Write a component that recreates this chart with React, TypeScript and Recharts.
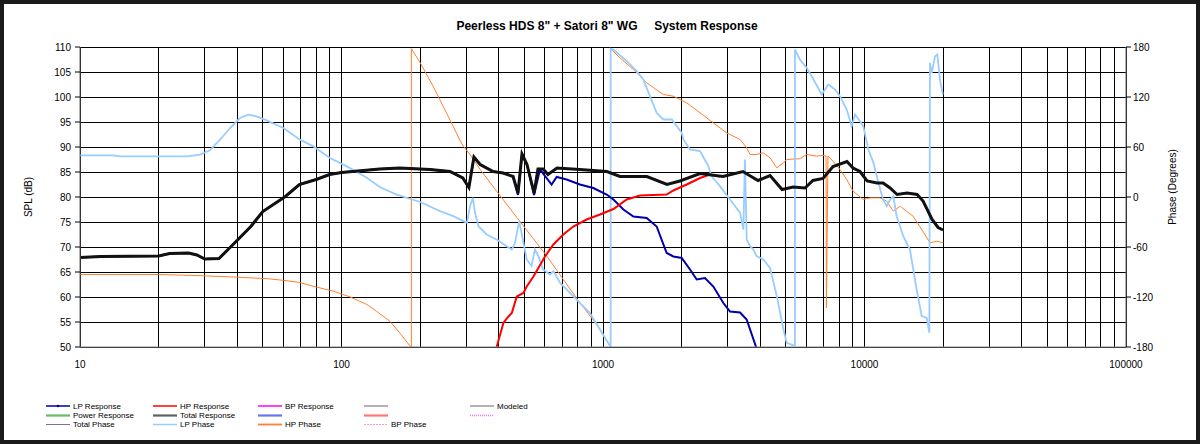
import React from 'react';
import { ComposedChart, Line, XAxis, YAxis, CartesianGrid, Label } from 'recharts';

// [frequency Hz, value]
const totalResponse: [number, number][] = [
  [10, 67.9], [12, 68.1], [20, 68.2], [22, 68.7], [26, 68.8], [28, 68.4], [30, 67.6], [34, 67.7],
  [39, 70.8], [45, 74.1], [50, 77.1], [61, 80.1], [69, 82.5], [80, 83.5], [90, 84.5], [100, 84.9],
  [140, 85.6], [167, 85.8], [218, 85.5], [260, 85.1], [291, 83.8], [307, 81.9], [321, 88.0],
  [339, 86.5], [380, 85.1], [415, 84.8], [453, 84.1], [473, 80.8], [490, 88.6], [512, 86.5],
  [545, 80.8], [564, 85.6], [590, 85.6], [616, 84.5], [667, 85.8], [816, 85.5], [1035, 85.1],
  [1161, 84.1], [1472, 84.1], [1757, 82.5], [1968, 83.2], [2350, 84.7], [2876, 84.1], [3428, 85.1],
  [3915, 83.3], [4353, 84.3], [4840, 81.5], [5330, 82.0], [5920, 81.8], [6350, 83.3], [6940, 83.7],
  [7580, 86.1], [8570, 87.1], [9040, 85.8], [9610, 85.1], [10230, 83.2], [11170, 82.8], [11780, 82.8],
  [12530, 81.8], [13320, 80.5], [14550, 80.8], [15890, 80.5], [16750, 79.2], [18130, 75.5],
  [19120, 73.9], [19970, 73.4],
];

const lpResponse: [number, number][] = [
  [10, 67.9], [12, 68.1], [20, 68.2], [22, 68.7], [26, 68.8], [28, 68.4], [30, 67.6], [34, 67.7],
  [39, 70.8], [45, 74.1], [50, 77.1], [61, 80.1], [69, 82.5], [80, 83.5], [90, 84.5], [100, 84.9],
  [140, 85.6], [167, 85.8], [218, 85.5], [260, 85.1], [291, 83.8], [307, 81.9], [321, 88.0],
  [339, 86.5], [380, 85.1], [415, 84.8], [453, 84.1], [473, 80.4], [490, 88.6], [512, 86.5],
  [545, 80.4], [574, 85.5], [636, 82.5], [665, 84.0], [726, 83.5], [816, 82.5], [918, 81.8],
  [1033, 80.5], [1096, 79.5], [1197, 77.5], [1307, 76.1], [1469, 75.8], [1604, 74.1], [1752, 68.8],
  [1858, 68.1], [2000, 67.8], [2152, 65.5], [2282, 63.5], [2454, 63.8], [2642, 62.1], [2886, 58.8],
  [3060, 57.1], [3343, 56.9], [3543, 55.5], [3850, 50],
];

const hpResponse: [number, number][] = [
  [392, 50], [416, 54.8], [435, 56.1], [448, 56.8], [468, 60.1], [496, 60.8], [511, 62.1],
  [542, 64.1], [600, 68.1], [646, 70.5], [705, 72.5], [770, 74.1], [866, 75.5], [974, 76.5],
  [1096, 77.6], [1232, 79.5], [1385, 80.3], [1752, 80.5], [1858, 81.3], [2089, 82.5], [2350, 83.8],
  [2566, 84.5], [2800, 84.1],
];

const hpPhase: [number, number][] = [
  [10, -93], [20, -93], [29, -94.4], [38.5, -96], [52, -98], [60, -100], [69, -102.5], [80, -108],
  [93, -113], [108, -120], [125, -129], [136, -137], [153, -149], [167, -163], [183, -179],
  [185, -180], [185, 178], [200, 161], [224, 133], [252, 101], [284, 68], [292, 61], [310, 51],
  [339, 33], [392, 7], [454, -19], [526, -45], [610, -71], [705, -99], [816, -127], [946, -153],
  [1065, -179], [1068, -180], [1068, 178], [1161, 167], [1307, 153], [1469, 137], [1701, 123],
  [1858, 121], [2089, 113], [2350, 101], [2642, 89], [2970, 77], [3343, 69], [3543, 59], [3650, 51],
  [3870, 51], [4100, 53], [4353, 47], [4620, 35], [4900, 41], [5040, 45], [5660, 46], [6010, 51],
  [6560, 49], [6940, 50], [7130, 49], [7150, -133], [7250, 49], [7580, 43], [8060, 33], [8550, 21],
  [9040, 7], [9890, -3], [10500, -1], [11470, -1], [12160, -5], [12890, -17], [13710, -11],
  [14450, -17], [15330, -23], [16250, -35], [17800, -55], [18900, -53], [20000, -55],
];

const lpPhase: [number, number][] = [
  [10, 50], [13.4, 50], [14.2, 48.7], [25.6, 48.7], [28.8, 50.8], [31.4, 56], [34.3, 68.8],
  [37.5, 82.8], [40.9, 94.8], [44, 98.8], [47.3, 96.8], [51.7, 92], [59.9, 82.8], [69.4, 68.8],
  [78, 60.8], [90.3, 46.8], [104.8, 36.7], [125, 23], [140, 12], [162.6, 2.8], [200, -6],
  [238, -17], [268, -23], [292, -29], [302, -31], [310, -11], [318, -1], [324, -19], [334, -35],
  [359, -45], [392, -51], [428, -59], [448, -63], [461, -55], [478, -29], [488, -43], [511, -75],
  [533, -83], [549, -63], [566, -71], [590, -87], [627, -93], [646, -89], [686, -103], [748, -115],
  [816, -127], [890, -139], [974, -159], [1065, -179], [1070, -180], [1070, 178], [1096, 177],
  [1232, 163], [1345, 151], [1426, 141], [1512, 121], [1604, 101], [1701, 93], [1832, 93],
  [1915, 85], [2000, 77], [2030, 69], [2152, 57], [2350, 55], [2528, 37], [2600, 25], [2800, 13],
  [3060, -3], [3343, -19], [3442, -39], [3490, 45], [3543, -51], [3650, -59], [3757, -63],
  [3870, -71], [4100, -75], [4353, -85], [4620, -119], [4900, -159], [5040, -175], [5350, -178],
  [5420, -178], [5420, 177], [5660, 165], [6010, 155], [6380, 141], [6860, 123], [7270, 135],
  [7710, 129], [8060, 121], [8550, 105], [8930, 85], [9200, 99], [9610, 91], [9890, 85],
  [10350, 57], [10820, 41], [11300, 17], [11780, -3], [12160, -11], [12530, -3], [12890, 1],
  [13270, -23], [14070, -47], [14920, -63], [15830, -111], [16550, -143], [17300, -145],
  [17700, -163], [17800, 161], [18070, 149], [18620, 169], [18990, 171], [19430, 141], [19930, 123],
];

const decades = [10, 100, 1000, 10000];
const freqTicks = decades.flatMap((d) => [1, 2, 3, 4, 5, 6, 7, 8, 9].map((m) => d * m)).concat([100000]);
const splTicks = [50, 55, 60, 65, 70, 75, 80, 85, 90, 95, 100, 105, 110];
const phaseTicks = [-180, -120, -60, 0, 60, 120, 180];

const legendRows = [
  [
    { label: 'LP Response', color: '#00009c', width: 1.5, markers: true },
    { label: 'HP Response', color: '#ff0000', width: 1.5 },
    { label: 'BP Response', color: '#ff00ff', width: 1.5 },
    { label: '', color: '#808080', width: 1.2 },
    { label: 'Modeled', color: '#808080', width: 1.2 },
  ],
  [
    { label: 'Power Response', color: '#66bb66', width: 2.2 },
    { label: 'Total Response', color: '#606060', width: 2.2 },
    { label: '', color: '#6677ee', width: 2.2 },
    { label: '', color: '#ff7777', width: 2.2 },
    { label: '', color: '#ff66ff', width: 1.5, dash: '1 1' },
  ],
  [
    { label: 'Total Phase', color: '#807090', width: 1 },
    { label: 'LP Phase', color: '#99ccff', width: 1.5 },
    { label: 'HP Phase', color: '#ff8030', width: 1.8 },
    { label: 'BP Phase', color: '#ff99cc', width: 1, dash: '2 1' },
  ],
];

const toPoints = (rows: [number, number][]) => rows.map(([f, v]) => ({ f, v }));
const font = '"Liberation Sans", Arial, sans-serif';

function ChartLegend() {
  const colX = [46, 153, 258, 364, 470];
  const rowY = [406, 415.5, 424.5];
  return (
    <svg width={1200} height={444} style={{ position: 'absolute', left: 0, top: 0, pointerEvents: 'none' }}>
      {legendRows.map((row, r) =>
        row.map((item, c) => (
          <g key={`${r}-${c}`}>
            <line
              x1={colX[c]}
              x2={colX[c] + 24}
              y1={rowY[r]}
              y2={rowY[r]}
              stroke={item.color}
              strokeWidth={item.width}
              strokeDasharray={item.dash}
            />
            {item.markers && <circle cx={colX[c] + 12} cy={rowY[r]} r={1.3} fill={item.color} />}
            {item.label && (
              <text x={colX[c] + 27} y={rowY[r] + 2.8} fontSize={8} fontFamily={font} fill="#000">
                {item.label}
              </text>
            )}
          </g>
        ))
      )}
    </svg>
  );
}

export default function App() {
  return (
    <div style={{ position: 'relative', width: 1200, height: 444, background: '#fff', fontFamily: font }}>
      <style>{`body{margin:0}`}</style>
      <div
        style={{
          position: 'absolute',
          top: 19,
          left: 0,
          width: 1214,
          textAlign: 'center',
          fontSize: 12,
          fontWeight: 'bold',
          whiteSpace: 'pre',
          color: '#000',
        }}
      >
        {'Peerless HDS 8" + Satori 8" WG     System Response'}
      </div>
      <ComposedChart width={1200} height={444} margin={{ top: 47, right: 24, bottom: 67, left: 30 }}>
        <CartesianGrid yAxisId="spl" stroke="#000" strokeWidth={1} shapeRendering="crispEdges" />
        <XAxis
          dataKey="f"
          type="number"
          scale="log"
          domain={[10, 100000]}
          allowDataOverflow
          ticks={freqTicks}
          interval={0}
          tickLine={false}
          axisLine={{ stroke: '#888' }}
          tick={{ fontSize: 10, fill: '#000', fontFamily: font }}
          tickMargin={8}
          height={30}
          tickFormatter={(v: number) => (Number.isInteger(Math.log10(v)) ? String(v) : '')}
        />
        <YAxis
          yAxisId="spl"
          orientation="left"
          domain={[50, 110]}
          ticks={splTicks}
          allowDataOverflow
          width={50}
          tick={{ fontSize: 10, fill: '#000', fontFamily: font }}
          tickSize={5}
          tickMargin={4}
          tickLine={{ stroke: '#000' }}
          axisLine={{ stroke: '#666' }}
        >
          <Label
            content={() => (
              <text
                transform="translate(32,197) rotate(-90)"
                textAnchor="middle"
                fontSize={10}
                fontFamily={font}
                fill="#000"
              >
                SPL (dB)
              </text>
            )}
          />
        </YAxis>
        <YAxis
          yAxisId="phase"
          orientation="right"
          domain={[-180, 180]}
          ticks={phaseTicks}
          allowDataOverflow
          width={50}
          tick={{ fontSize: 10, fill: '#000', fontFamily: font }}
          tickSize={5}
          tickLine={{ stroke: '#000' }}
          axisLine={{ stroke: '#666' }}
        >
          <Label
            content={() => (
              <text
                transform="translate(1176,187) rotate(-90)"
                textAnchor="middle"
                fontSize={10}
                fontFamily={font}
                fill="#000"
              >
                Phase (Degrees)
              </text>
            )}
          />
        </YAxis>
        <Line
          yAxisId="phase"
          data={toPoints(hpPhase)}
          dataKey="v"
          stroke="#ff8030"
          strokeWidth={1}
          dot={false}
          isAnimationActive={false}
          name="HP Phase"
        />
        <Line
          yAxisId="phase"
          data={toPoints(lpPhase)}
          dataKey="v"
          stroke="#99ccff"
          strokeWidth={1.8}
          dot={false}
          isAnimationActive={false}
          name="LP Phase"
        />
        <Line
          yAxisId="spl"
          data={toPoints(lpResponse)}
          dataKey="v"
          stroke="#0000a8"
          strokeWidth={2}
          dot={false}
          isAnimationActive={false}
          name="LP Response"
        />
        <Line
          yAxisId="spl"
          data={toPoints(hpResponse)}
          dataKey="v"
          stroke="#ff0000"
          strokeWidth={2}
          dot={false}
          isAnimationActive={false}
          name="HP Response"
        />
        <Line
          yAxisId="spl"
          data={toPoints(totalResponse)}
          dataKey="v"
          stroke="#111"
          strokeWidth={3}
          dot={false}
          isAnimationActive={false}
          name="Total Response"
        />
      </ComposedChart>
      <ChartLegend />
      <div
        style={{
          position: 'absolute',
          inset: 0,
          border: '4px solid #1a1a1a',
          pointerEvents: 'none',
        }}
      />
    </div>
  );
}
